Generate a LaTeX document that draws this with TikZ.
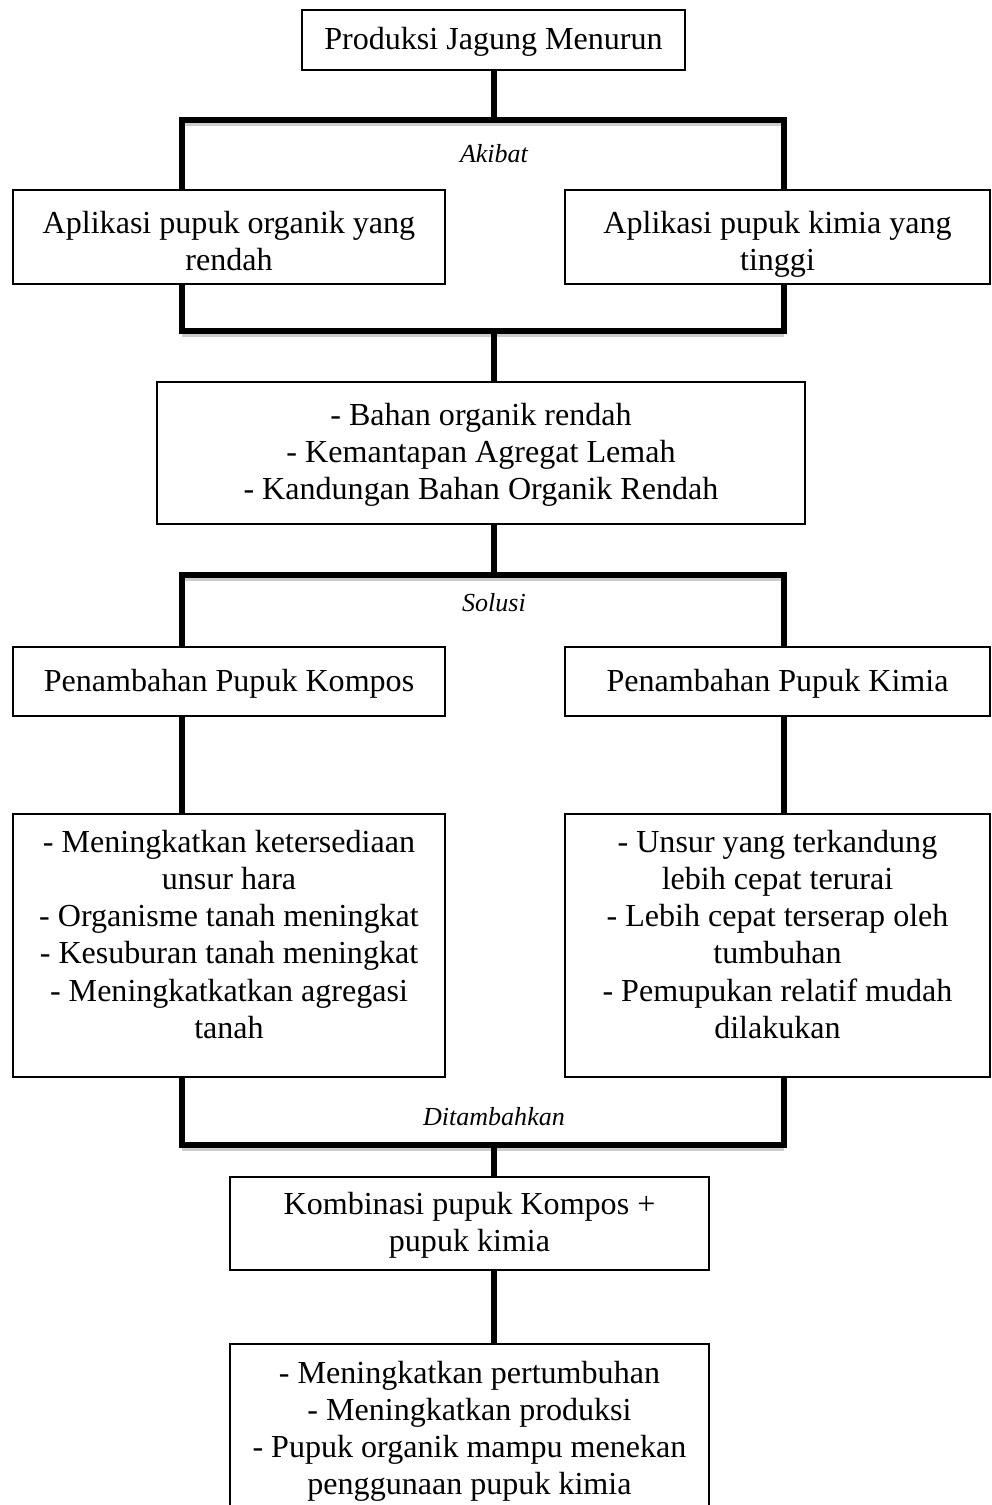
\documentclass[tikz,border=0pt]{standalone}
\usepackage{fontspec}
\setmainfont{Liberation Serif}

\tikzset{
	box/.style={draw, line width=1pt, inner sep=0pt, align=center, text depth=2pt,
		font=\fontsize{22.8}{26.4}\selectfont},
	bar/.style={line width=3.6pt, line join=miter},
	shade/.style={draw=gray!40, line width=3pt, transform canvas={yshift=-0.1cm}},
	lbl/.style={font=\fontsize{18.5}{22}\selectfont\itshape}
}

\begin{document}
\begin{tikzpicture}[x=0.025cm, y=-0.025cm]

	\useasboundingbox (0,0) rectangle (992,1505);

	\node[box, minimum width=9.575cm, minimum height=1.5cm] (top) at (493.5,40) {Produksi Jagung Menurun};

	\node[box, text height=50pt, minimum width=10.8cm, minimum height=2.35cm] (orgL) at (229,237) {Aplikasi pupuk organik yang\\rendah};
	\node[box, text height=50pt, minimum width=10.625cm, minimum height=2.35cm] (kimR) at (777.5,237) {Aplikasi pupuk kimia yang\\tinggi};

	\node[box, minimum width=16.2cm, minimum height=3.55cm] (tanah) at (481,453) {- Bahan organik rendah\\- Kemantapan Agregat Lemah\\- Kandungan Bahan Organik Rendah};

	\node[box, minimum width=10.8cm, minimum height=1.725cm] (kompos) at (229,681.5) {Penambahan Pupuk Kompos};
	\node[box, minimum width=10.625cm, minimum height=1.725cm] (kimia) at (777.5,681.5) {Penambahan Pupuk Kimia};

	\node[box, text depth=16pt, minimum width=10.8cm, minimum height=6.575cm] (untungL) at (229,945.5) {- Meningkatkan ketersediaan\\unsur hara\\- Organisme tanah meningkat\\- Kesuburan tanah meningkat\\- Meningkatkatkan agregasi\\tanah};
	\node[box, text depth=16pt, minimum width=10.625cm, minimum height=6.575cm] (untungR) at (777.5,945.5) {- Unsur yang terkandung\\lebih cepat terurai\\- Lebih cepat terserap oleh\\tumbuhan\\- Pemupukan relatif mudah\\dilakukan};

	\node[box, minimum width=11.975cm, minimum height=2.325cm] (kombi) at (469.5,1223.5) {Kombinasi pupuk Kompos +\\pupuk kimia};
	\node[box, minimum width=11.975cm, minimum height=4.25cm] (hasil) at (469.5,1429) {- Meningkatkan pertumbuhan\\- Meningkatkan produksi\\- Pupuk organik mampu menekan\\penggunaan pupuk kimia};

	\coordinate (mid) at (494,0);
	\coordinate (akL) at (182,120);
	\coordinate (akR) at (784,120);
	\coordinate (hrL) at (182,331);
	\coordinate (hrR) at (784,331);
	\coordinate (soL) at (182,575);
	\coordinate (soR) at (784,575);
	\coordinate (diL) at (182,1145);
	\coordinate (diR) at (784,1145);

	% shadows
	\draw[shade] (akL) -- (akR);
	\draw[shade] (hrL) -- (hrR);
	\draw[shade] (soL) -- (soR);
	\draw[shade] (diL) -- (diR);

	\draw[bar] (top.south -| mid) -- (mid |- akL);
	\draw[bar] (orgL.north -| akL) |- (akR) -- (kimR.north -| akR);
	\node[lbl] (akibat) at (494,154) {Akibat};

	\draw[bar] (orgL.south -| hrL) |- (hrR) -- (kimR.south -| hrR);
	\draw[bar] (mid |- hrL) -- (tanah.north -| mid);

	\draw[bar] (tanah.south -| mid) -- (mid |- soL);
	\draw[bar] (kompos.north -| soL) |- (soR) -- (kimia.north -| soR);
	\node[lbl] (solusi) at (494,603) {Solusi};

	\draw[bar] (kompos.south -| soL) -- (untungL.north -| soL);
	\draw[bar] (kimia.south -| soR) -- (untungR.north -| soR);

	\draw[bar] (untungL.south -| diL) |- (diR) -- (untungR.south -| diR);
	\node[lbl] (tambah) at (494,1117) {Ditambahkan};
	\draw[bar] (mid |- diL) -- (kombi.north -| mid);

	\draw[bar] (kombi.south -| mid) -- (hasil.north -| mid);

\end{tikzpicture}
\end{document}
